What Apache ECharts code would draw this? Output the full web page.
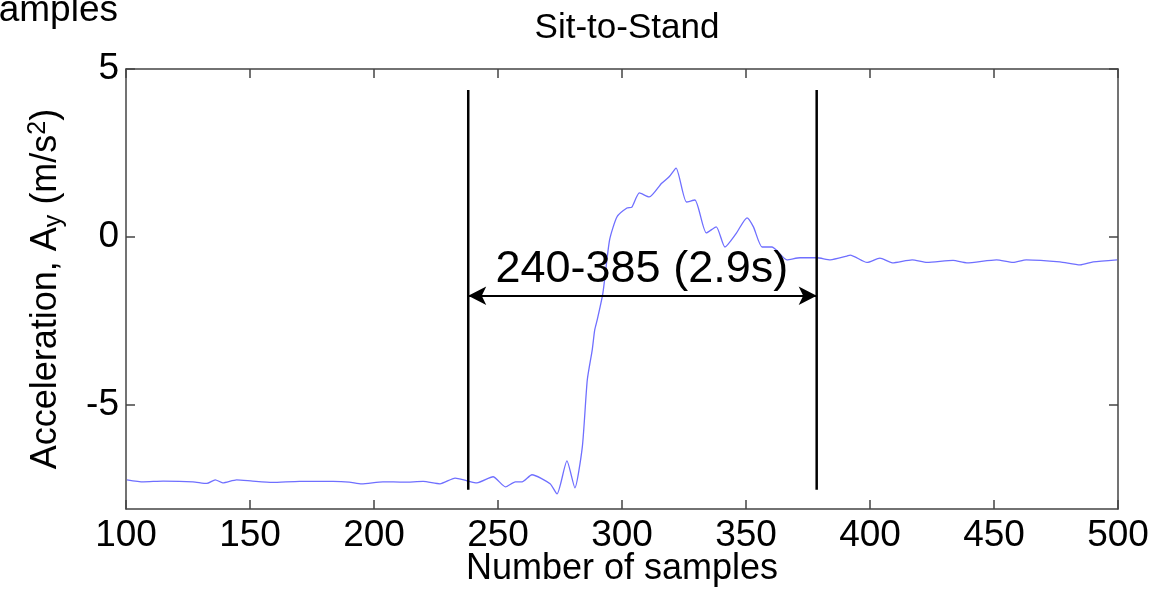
<!DOCTYPE html>
<html><head><meta charset="utf-8">
<script src="https://cdn.jsdelivr.net/npm/echarts@6/dist/echarts.min.js"></script>
<style>html,body{margin:0;padding:0;background:#fff}#c{width:1167px;height:589px}</style>
</head><body><div id="c"></div>
<script>
const samples = [100.4,107,115,127,132.6,136,139,144.6,151,159,170,183.5,190,195,203.6,212,219.8,226.6,232.7,237.5,241.5,248,253,257,259.7,263.7,271,273.8,277.8,281,284,286,288,289,290,292.3,295,298,302,304,307,311,316,319,321.8,326,329.4,334,338,341.5,346,350.4,353,356.5,360.5,366.5,371.8,378.6,384,390.7,392,398.8,404,409,417,423,433.5,439,451,457.7,463,476.6,484.7,490,499.6];
const accel = [-7.23,-7.29,-7.27,-7.29,-7.34,-7.23,-7.32,-7.23,-7.27,-7.31,-7.28,-7.28,-7.30,-7.35,-7.29,-7.30,-7.28,-7.35,-7.18,-7.26,-7.32,-7.14,-7.44,-7.29,-7.29,-7.08,-7.35,-7.65,-6.67,-7.47,-6.25,-4.26,-3.36,-2.77,-2.47,-1.67,-0.09,0.6,0.86,0.89,1.31,1.19,1.6,1.79,2.05,1.04,1.1,0.12,0.3,-0.3,0.1,0.57,0.3,-0.3,-0.3,-0.68,-0.62,-0.62,-0.68,-0.57,-0.54,-0.76,-0.63,-0.77,-0.68,-0.76,-0.7,-0.77,-0.68,-0.76,-0.68,-0.74,-0.83,-0.74,-0.68];
const xTicks = [100,150,200,250,300,350,400,450,500];
const yTicks = [-5,0,5];
const markerSamples = [238,378.5];
const markerRange = [-7.53,4.375];
const arrowLevel = -1.75;
const annotationText = '240-385 (2.9s)';
const annotationPos = [308,-0.98];
const titleText = 'Sit-to-Stand';
const xName = 'Number of samples';

const FONT = '"Liberation Sans", Arial, sans-serif';
const AX = '#444';
const chart = echarts.init(document.getElementById('c'));
const lineData = samples.map((s,i)=>[s,accel[i]]);
const frameAxisX = (pos, showLabel) => ({
  type:'value', position:pos, min:xTicks[0], max:xTicks[xTicks.length-1], interval:50,
  axisLine:{show:true,onZero:false,lineStyle:{color:AX,width:1.5}},
  axisTick:{show:true,inside:true,length:9,lineStyle:{color:AX,width:1.5}},
  axisLabel:{show:showLabel,color:'#000',fontFamily:FONT,fontSize:37,margin:8},
  splitLine:{show:false}
});
const frameAxisY = (pos, showLabel) => ({
  type:'value', position:pos, min:-8.1, max:5,
  axisLine:{show:true,onZero:false,lineStyle:{color:AX,width:1.5}},
  axisTick:{show:true,inside:true,length:9,customValues:yTicks,lineStyle:{color:AX,width:1.5}},
  axisLabel:{show:showLabel,customValues:yTicks,color:'#000',fontFamily:FONT,fontSize:37,margin:7},
  splitLine:{show:false}
});
const xMain = frameAxisX('bottom', true);
xMain.name = xName; xMain.nameLocation='middle'; xMain.nameGap=42; xMain.nameMoveOverlap=false;
xMain.nameTextStyle = {color:'#000',fontFamily:FONT,fontSize:36};
const yMain = frameAxisY('left', true);
yMain.name = 'Acceleration, A{sub|y} (m/s{sup|2})';
yMain.nameLocation='middle'; yMain.nameGap=59; yMain.nameMoveOverlap=false;
yMain.nameTextStyle = {color:'#000',fontFamily:FONT,fontSize:36,
  rich:{sub:{fontSize:25,fontFamily:FONT,color:'#000',padding:[16,0,0,0]},
        sup:{fontSize:25,fontFamily:FONT,color:'#000',padding:[0,0,16,0]}}};

chart.setOption({
  animation:false,
  backgroundColor:'#fff',
  title:{text:titleText,left:622,textAlign:'center',top:6,
    textStyle:{color:'#000',fontFamily:FONT,fontSize:35,fontWeight:'normal'}},
  grid:{left:126,right:49,top:69,bottom:80,containLabel:false,outerBoundsMode:'none'},
  xAxis:[xMain, frameAxisX('top', false)],
  yAxis:[yMain, frameAxisY('right', false)],
  graphic:[{type:'text',right:1167-118,top:-8,
    style:{text:'Number of samples',textAlign:'right',fill:'#000',fontFamily:FONT,fontSize:37}}],
  series:[
    {type:'line',data:lineData,showSymbol:false,smooth:0.2,
      lineStyle:{color:'#6f6fff',width:1.3},z:3},
    {type:'line',data:[[markerSamples[0],markerRange[0]],[markerSamples[0],markerRange[1]]],
      showSymbol:false,lineStyle:{color:'#000',width:2.5},z:4},
    {type:'line',data:[[markerSamples[1],markerRange[0]],[markerSamples[1],markerRange[1]]],
      showSymbol:false,lineStyle:{color:'#000',width:2.5},z:4,
      markLine:{silent:true,symbol:['arrow','arrow'],symbolSize:[14,18],
        lineStyle:{color:'#000',width:2,type:'solid'},label:{show:false},
        data:[[{coord:[markerSamples[0],arrowLevel]},{coord:[markerSamples[1],arrowLevel]}]]}},
    {type:'scatter',data:[annotationPos],symbolSize:0,z:5,itemStyle:{opacity:1},
      label:{show:true,position:'inside',formatter:annotationText,color:'#000',opacity:1,
        textBorderWidth:0,fontFamily:FONT,fontSize:45}}
  ]
});
</script></body></html>
